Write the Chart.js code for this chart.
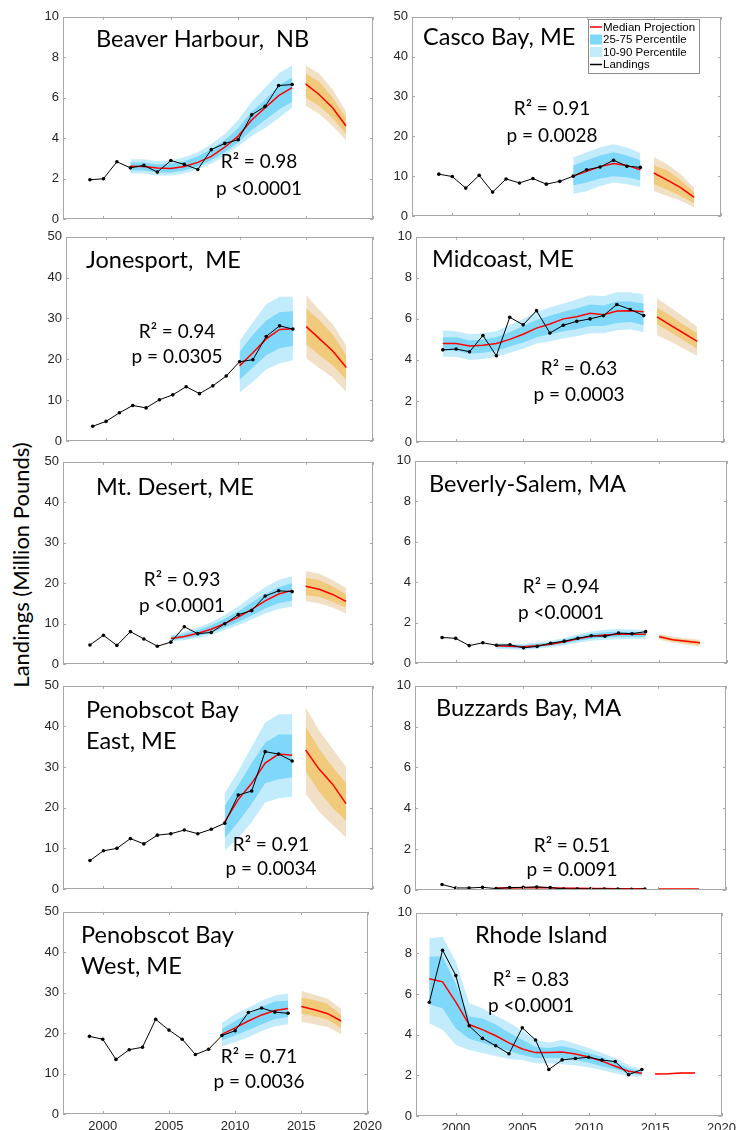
<!DOCTYPE html>
<html>
<head>
<meta charset="utf-8">
<script src="https://cdn.jsdelivr.net/npm/chart.js@4.4.1/dist/chart.umd.min.js"></script>
<style>
  body { margin: 0; background: #fff; }
  #page { position: relative; width: 750px; height: 1130px; overflow: hidden; background: #fff; }
  #page canvas { position: absolute; }
  #ylabel {
    position: absolute; left: 20px; top: 565px;
    transform: translate(-50%, -50%) rotate(-90deg);
    font: 22px Lato; white-space: nowrap; color: #000;
  }
</style>
</head>
<body>
<div id="page"><div id="ylabel">Landings (Million Pounds)</div></div>
<script>
// ---------- Data (million pounds) ----------
// hindcast / projection rows: [year, p10, p25, median, p75, p90]
const xTicks = [2000, 2005, 2010, 2015, 2020];

const beaverLandings = [1.94, 1.99, 2.83, 2.53, 2.65, 2.32, 2.89, 2.70, 2.45, 3.43, 3.74, 3.92, 5.15, 5.57, 6.60, 6.65];
const beaverHindcast = [
  [2002, 2.25, 2.4, 2.61, 2.8, 2.95], [2003, 2.25, 2.4, 2.6, 2.8, 2.95], [2004, 2.15, 2.3, 2.52, 2.7, 2.85],
  [2005, 2.15, 2.3, 2.5, 2.75, 2.9], [2006, 2.25, 2.4, 2.6, 2.85, 3.05], [2007, 2.45, 2.6, 2.8, 3.1, 3.3],
  [2008, 2.75, 2.9, 3.1, 3.45, 3.7], [2009, 3.1, 3.3, 3.55, 3.9, 4.2], [2010, 3.6, 3.8, 4.1, 4.5, 4.9],
  [2011, 4.1, 4.4, 4.9, 5.3, 5.8], [2012, 4.5, 4.9, 5.5, 5.9, 6.5], [2013, 5.0, 5.4, 6.1, 6.6, 7.2],
  [2014, 5.5, 5.8, 6.5, 7.0, 7.6]
];
const beaverProjection = [[2015, 5.6, 6.0, 6.68, 7.2, 7.6], [2016, 5.2, 5.6, 6.16, 6.8, 7.2], [2017, 4.6, 5.0, 5.5, 6.0, 6.4], [2018, 3.9, 4.2, 4.6, 5.0, 5.3]];

const cascoLandings = [10.5, 9.9, 7.0, 10.2, 6.0, 9.3, 8.3, 9.4, 8.0, 8.7, 10.0, 11.6, 12.3, 14.0, 12.5, 12.2];
const cascoHindcast = [
  [2009, 5.6, 7.7, 10.0, 12.7, 14.7], [2010, 6.2, 8.4, 11.2, 14.0, 16.0], [2011, 7.5, 9.4, 12.4, 15.2, 17.2],
  [2012, 8.4, 10.0, 13.2, 16.0, 18.0], [2013, 8.0, 9.7, 12.7, 15.2, 17.2], [2014, 7.3, 9.0, 11.6, 14.0, 15.8]
];
const cascoProjection = [[2015, 6.3, 8.0, 10.8, 12.8, 14.8], [2016, 5.0, 6.6, 9.0, 11.5, 13.0], [2017, 3.8, 5.0, 7.1, 9.0, 10.5], [2018, 2.2, 3.2, 4.7, 6.0, 7.0]];

const jonesLandings = [3.6, 4.8, 6.9, 8.7, 8.1, 10.1, 11.3, 13.3, 11.6, 13.5, 15.9, 19.4, 19.9, 25.6, 28.2, 27.4];
const jonesHindcast = [
  [2010, 11.8, 15.0, 18.4, 21.8, 24.5], [2011, 14.5, 18.0, 21.6, 26.0, 29.0], [2012, 17.5, 21.0, 25.0, 29.5, 33.5],
  [2013, 19.0, 22.7, 27.3, 31.5, 35.3], [2014, 19.8, 23.3, 27.5, 31.8, 35.3]
];
const jonesProjection = [[2015, 20.2, 23.7, 28.0, 32.5, 35.7], [2016, 17.8, 21.0, 25.0, 29.5, 32.0], [2017, 15.5, 18.5, 22.0, 26.0, 28.5], [2018, 12.0, 15.0, 18.0, 21.0, 23.3]];

const midLandings = [4.49, 4.53, 4.40, 5.19, 4.20, 6.08, 5.71, 6.40, 5.31, 5.69, 5.88, 6.0, 6.16, 6.70, 6.46, 6.16];
const midHindcast = [
  [1999, 4.15, 4.45, 4.8, 5.1, 5.45], [2000, 4.15, 4.45, 4.8, 5.1, 5.4], [2001, 4.0, 4.3, 4.68, 4.95, 5.25],
  [2002, 4.05, 4.35, 4.72, 5.0, 5.3], [2003, 4.15, 4.45, 4.8, 5.1, 5.4], [2004, 4.35, 4.65, 5.0, 5.35, 5.7],
  [2005, 4.55, 4.85, 5.25, 5.65, 6.0], [2006, 4.8, 5.1, 5.55, 5.95, 6.35], [2007, 4.9, 5.25, 5.75, 6.15, 6.55],
  [2008, 5.05, 5.4, 6.0, 6.35, 6.75], [2009, 5.15, 5.5, 6.1, 6.5, 6.95], [2010, 5.3, 5.65, 6.27, 6.7, 7.15],
  [2011, 5.3, 5.65, 6.2, 6.65, 7.1], [2012, 5.45, 5.8, 6.38, 6.85, 7.3], [2013, 5.5, 5.85, 6.4, 6.85, 7.3],
  [2014, 5.35, 5.7, 6.35, 6.75, 7.2]
];
const midProjection = [[2015, 5.2, 5.75, 6.1, 6.55, 7.0], [2016, 4.9, 5.35, 5.7, 6.15, 6.55], [2017, 4.55, 4.95, 5.3, 5.7, 6.1], [2018, 4.2, 4.55, 4.9, 5.3, 5.6]];

const desertLandings = [4.7, 7.1, 4.6, 8.0, 6.2, 4.4, 5.4, 9.2, 7.5, 7.8, 9.95, 12.2, 13.2, 16.8, 18.1, 17.9];
const desertHindcast = [
  [2005, 5.6, 5.9, 6.3, 6.8, 7.2], [2006, 5.9, 6.3, 6.8, 7.5, 8.0], [2007, 6.4, 6.9, 7.6, 8.4, 9.0],
  [2008, 7.2, 7.8, 8.6, 9.6, 10.3], [2009, 8.4, 9.0, 10.0, 11.2, 12.1], [2010, 9.6, 10.4, 11.6, 13.0, 14.2],
  [2011, 11.0, 12.0, 13.5, 15.2, 16.7], [2012, 12.5, 13.7, 15.6, 17.3, 19.0], [2013, 13.6, 15.0, 17.3, 19.0, 20.8],
  [2014, 14.2, 15.7, 18.2, 20.0, 21.7]
];
const desertProjection = [[2015, 15.5, 17.0, 19.2, 21.3, 23.0], [2016, 15.0, 16.6, 18.5, 20.8, 22.3], [2017, 14.0, 15.4, 17.2, 19.2, 20.8], [2018, 12.5, 14.0, 15.5, 17.2, 18.8]];

const beverlyLandings = [1.26, 1.22, 0.86, 1.0, 0.88, 0.9, 0.75, 0.82, 0.98, 1.08, 1.22, 1.35, 1.32, 1.48, 1.45, 1.55];
const beverlyHindcast = [
  [2003, 0.7, 0.78, 0.85, 0.93, 1.0], [2004, 0.68, 0.76, 0.83, 0.9, 0.97], [2005, 0.66, 0.73, 0.8, 0.88, 0.95],
  [2006, 0.7, 0.78, 0.85, 0.94, 1.02], [2007, 0.78, 0.86, 0.93, 1.02, 1.1], [2008, 0.88, 0.96, 1.05, 1.15, 1.24],
  [2009, 1.0, 1.1, 1.2, 1.32, 1.42], [2010, 1.1, 1.2, 1.32, 1.45, 1.56], [2011, 1.15, 1.26, 1.38, 1.52, 1.65],
  [2012, 1.18, 1.3, 1.42, 1.55, 1.68], [2013, 1.2, 1.3, 1.42, 1.54, 1.66], [2014, 1.2, 1.3, 1.42, 1.52, 1.62]
];
const beverlyProjection = [[2015, 1.15, 1.22, 1.3, 1.38, 1.45], [2016, 1.0, 1.07, 1.15, 1.23, 1.3], [2017, 0.9, 0.98, 1.07, 1.15, 1.22], [2018, 0.82, 0.9, 1.0, 1.08, 1.15]];

const eastLandings = [7.0, 9.4, 10.0, 12.4, 11.1, 13.25, 13.6, 14.5, 13.6, 14.7, 16.2, 23.1, 24.1, 33.8, 33.2, 31.5];
const eastHindcast = [
  [2009, 9.5, 12.5, 16.5, 20.5, 23.5], [2010, 12.5, 16.5, 22.0, 25.5, 29.0], [2011, 16.5, 21.0, 26.0, 31.0, 35.0],
  [2012, 21.3, 26.0, 31.0, 36.0, 41.0], [2013, 22.3, 27.0, 33.2, 38.0, 43.0], [2014, 22.7, 27.5, 32.9, 38.0, 43.0]
];
const eastProjection = [[2015, 23.5, 29.0, 34.2, 40.0, 44.7], [2016, 19.0, 24.0, 29.5, 34.5, 39.0], [2017, 15.8, 20.0, 25.8, 30.0, 34.5], [2018, 12.7, 16.8, 21.0, 26.0, 30.0]];

const buzzardsLandings = [0.27, 0.10, 0.10, 0.13, 0.07, 0.12, 0.13, 0.15, 0.12, 0.05, 0.05, 0.06, 0.05, 0.05, 0.03, 0.05];
const buzzardsHindcast = [
  [2003, 0.06, 0.08, 0.10, 0.12, 0.14], [2004, 0.06, 0.08, 0.10, 0.12, 0.14], [2005, 0.07, 0.09, 0.11, 0.13, 0.15],
  [2006, 0.08, 0.10, 0.12, 0.14, 0.16], [2007, 0.07, 0.09, 0.11, 0.13, 0.15], [2008, 0.05, 0.07, 0.09, 0.11, 0.13],
  [2009, 0.04, 0.06, 0.08, 0.10, 0.12], [2010, 0.04, 0.05, 0.07, 0.09, 0.10], [2011, 0.04, 0.05, 0.07, 0.09, 0.10],
  [2012, 0.03, 0.04, 0.06, 0.08, 0.09], [2013, 0.03, 0.04, 0.06, 0.08, 0.09], [2014, 0.03, 0.04, 0.06, 0.08, 0.09]
];
const buzzardsProjection = [[2015, 0.03, 0.04, 0.05, 0.06, 0.07], [2016, 0.03, 0.04, 0.05, 0.06, 0.07], [2017, 0.03, 0.04, 0.05, 0.06, 0.07], [2018, 0.03, 0.04, 0.05, 0.06, 0.07]];

const westLandings = [19.2, 18.5, 13.5, 15.9, 16.5, 23.4, 20.75, 18.5, 14.7, 16.0, 19.4, 20.6, 25.1, 26.2, 25.2, 24.9];
const westHindcast = [
  [2009, 16.7, 18.2, 19.7, 21.0, 22.5], [2010, 17.8, 19.5, 21.3, 23.0, 24.7], [2011, 19.0, 20.8, 23.0, 24.7, 26.3],
  [2012, 20.5, 22.2, 24.5, 26.5, 28.0], [2013, 21.7, 23.5, 25.6, 27.8, 29.3], [2014, 22.2, 24.0, 26.1, 28.0, 29.8]
];
const westProjection = [[2015, 22.8, 24.8, 26.6, 28.8, 30.5], [2016, 22.2, 24.2, 25.8, 28.2, 29.5], [2017, 21.5, 23.3, 24.8, 27.2, 28.5], [2018, 19.7, 21.2, 23.0, 24.5, 26.0]];

const rhodeLandings = [5.6, 8.16, 6.91, 4.44, 3.82, 3.46, 3.06, 4.34, 3.74, 2.29, 2.76, 2.83, 2.89, 2.75, 2.68, 2.03, 2.29];
const rhodeHindcast = [
  [1998, 4.55, 5.5, 6.75, 7.85, 8.75], [1999, 4.25, 5.3, 6.6, 7.85, 8.82], [2000, 3.5, 4.3, 5.6, 6.5, 7.6],
  [2001, 3.25, 3.8, 4.5, 4.9, 5.55], [2002, 3.1, 3.6, 4.25, 4.8, 5.3], [2003, 2.95, 3.4, 3.95, 4.5, 4.95],
  [2004, 2.8, 3.2, 3.6, 4.1, 4.6], [2005, 2.75, 3.0, 3.3, 3.75, 4.2], [2006, 2.6, 2.85, 3.12, 3.4, 3.75],
  [2007, 2.6, 2.85, 3.12, 3.35, 3.6], [2008, 2.55, 2.85, 3.15, 3.45, 3.75], [2009, 2.5, 2.75, 3.05, 3.3, 3.55],
  [2010, 2.4, 2.62, 2.9, 3.1, 3.35], [2011, 2.25, 2.45, 2.7, 2.9, 3.1], [2012, 2.1, 2.3, 2.45, 2.65, 2.85],
  [2013, 1.95, 2.1, 2.2, 2.35, 2.5], [2014, 1.95, 2.02, 2.1, 2.2, 2.3]
];
const rhodeProjection = [[2015, 2.04, 2.05, 2.07, 2.09, 2.1], [2016, 2.05, 2.06, 2.08, 2.1, 2.11], [2017, 2.09, 2.1, 2.12, 2.14, 2.15], [2018, 2.09, 2.1, 2.12, 2.14, 2.15]];

// ---------- Panels (box = plot area in page px: left, top, right, bottom) ----------
const panels = [
  { title: ['Beaver Harbour,  NB'], stats: ['R\u00B2 = 0.98', 'p <0.0001'], ymax: 10, first: 1999,
    land: beaverLandings, hind: beaverHindcast, proj: beaverProjection,
    box: [63, 15, 373, 219], titleAt: [96, 47], statsAt: [259, 168, 195] },
  { title: ['Casco Bay, ME'], stats: ['R\u00B2 = 0.91', 'p = 0.0028'], ymax: 50, first: 1999,
    land: cascoLandings, hind: cascoHindcast, proj: cascoProjection,
    box: [412, 15, 721, 216], titleAt: [423, 45], statsAt: [552, 115, 142], legend: true },
  { title: ['Jonesport,  ME'], stats: ['R\u00B2 = 0.94', 'p = 0.0305'], ymax: 50, first: 1999,
    land: jonesLandings, hind: jonesHindcast, proj: jonesProjection,
    box: [66, 235, 373, 441], titleAt: [86, 268], statsAt: [177, 338, 363] },
  { title: ['Midcoast, ME'], stats: ['R\u00B2 = 0.63', 'p = 0.0003'], ymax: 10, first: 1999,
    land: midLandings, hind: midHindcast, proj: midProjection,
    box: [416, 235, 724, 442], titleAt: [432, 267], statsAt: [579, 375, 401] },
  { title: ['Mt. Desert, ME'], stats: ['R\u00B2 = 0.93', 'p <0.0001'], ymax: 50, first: 1999,
    land: desertLandings, hind: desertHindcast, proj: desertProjection,
    box: [63, 460, 373, 664], titleAt: [96, 495], statsAt: [182, 586, 612] },
  { title: ['Beverly-Salem, MA'], stats: ['R\u00B2 = 0.94', 'p <0.0001'], ymax: 10, first: 1999,
    land: beverlyLandings, hind: beverlyHindcast, proj: beverlyProjection,
    box: [415, 459, 727, 663], titleAt: [429, 492], statsAt: [561, 593, 619] },
  { title: ['Penobscot Bay', 'East, ME'], stats: ['R\u00B2 = 0.91', 'p = 0.0034'], ymax: 50, first: 1999,
    land: eastLandings, hind: eastHindcast, proj: eastProjection,
    box: [63, 684, 373, 889], titleAt: [86, 718], statsAt: [271, 851, 875] },
  { title: ['Buzzards Bay, MA'], stats: ['R\u00B2 = 0.51', 'p = 0.0091'], ymax: 10, first: 1999,
    land: buzzardsLandings, hind: buzzardsHindcast, proj: buzzardsProjection,
    box: [415, 684, 726, 890], titleAt: [436, 716], statsAt: [572, 852, 876] },
  { title: ['Penobscot Bay', 'West, ME'], stats: ['R\u00B2 = 0.71', 'p = 0.0036'], ymax: 50, first: 1999,
    land: westLandings, hind: westHindcast, proj: westProjection,
    box: [63, 910, 373, 1114], titleAt: [81, 943], statsAt: [259, 1063, 1088], bottom: true },
  { title: ['Rhode Island'], stats: ['R\u00B2 = 0.83', 'p <0.0001'], ymax: 10, first: 1998,
    land: rhodeLandings, hind: rhodeHindcast, proj: rhodeProjection,
    box: [416, 911, 727, 1116], titleAt: [475, 943], statsAt: [531, 986, 1012], bottom: true }
];

const BLUE_DARK = '#7fd7f9';
const BLUE_LIGHT = '#c2ecfc';
const ORANGE_DARK = '#f1ca7c';
const ORANGE_LIGHT = '#f1e0c6';
const FRAME = '#a8a8a8';
const PAD_L = 40, PAD_R = 14, PAD_T = 10, PAD_B = 24;

Chart.defaults.font.family = 'Liberation Sans';

function col(tbl, i) { return tbl.map(r => ({ x: r[0], y: r[i] })); }
function landPts(first, vals) { return vals.map((v, i) => ({ x: first + i, y: v })); }

const none = 'rgba(0,0,0,0)';
function band(data, target, color, order) {
  return { data, fill: target, backgroundColor: color, borderColor: none, borderWidth: 0, pointRadius: 0, order };
}
function edge(data, order) {
  return { data, fill: false, borderColor: none, borderWidth: 0, pointRadius: 0, order };
}

// frame, inward ticks, titles, stats and legend
const decorPlugin = {
  id: 'decor',
  afterDraw(chart, args, o) {
    const { ctx, chartArea: a, scales: { x, y } } = chart;
    ctx.save();
    ctx.strokeStyle = FRAME;
    ctx.lineWidth = 1;
    ctx.strokeRect(Math.round(a.left) + 0.5, Math.round(a.top) + 0.5, Math.round(a.width) - 1, Math.round(a.height) - 1);
    ctx.beginPath();
    x.ticks.forEach(t => {
      const px = Math.round(x.getPixelForValue(t.value)) + 0.5;
      ctx.moveTo(px, a.bottom); ctx.lineTo(px, a.bottom - 3);
      ctx.moveTo(px, a.top); ctx.lineTo(px, a.top + 3);
    });
    y.ticks.forEach(t => {
      const py = Math.round(y.getPixelForValue(t.value)) + 0.5;
      ctx.moveTo(a.left, py); ctx.lineTo(a.left + 3, py);
      ctx.moveTo(a.right, py); ctx.lineTo(a.right - 3, py);
    });
    ctx.stroke();

    const ox = o.ox, oy = o.oy;
    ctx.fillStyle = '#000';
    ctx.textBaseline = 'alphabetic';
    ctx.font = '23.5px Lato';
    ctx.textAlign = 'left';
    o.title.forEach((s, i) => ctx.fillText(s, o.titleAt[0] - ox, o.titleAt[1] - oy + i * 31));
    ctx.font = '19px Lato';
    ctx.textAlign = 'center';
    ctx.fillText(o.stats[0], o.statsAt[0] - ox, o.statsAt[1] - oy);
    ctx.fillText(o.stats[1], o.statsAt[0] - ox, o.statsAt[2] - oy);

    if (o.legend) {
      const lx = 588 - ox, ly = 19 - oy;
      ctx.fillStyle = '#fff';
      ctx.fillRect(lx, ly, 111, 54);
      ctx.strokeStyle = '#8c8c8c';
      ctx.strokeRect(lx + 0.5, ly + 0.5, 111, 54);
      const items = [
        ['line', '#ff0000', 'Median Projection'],
        ['box', BLUE_DARK, '25-75 Percentile'],
        ['box', BLUE_LIGHT, '10-90 Percentile'],
        ['line', '#000', 'Landings']
      ];
      ctx.font = '11.5px "Liberation Sans"';
      ctx.textAlign = 'left';
      ctx.textBaseline = 'middle';
      items.forEach((it, i) => {
        const cy = ly + 8 + i * 12.5;
        if (it[0] === 'line') {
          ctx.strokeStyle = it[1]; ctx.lineWidth = 1.5;
          ctx.beginPath(); ctx.moveTo(lx + 2, cy); ctx.lineTo(lx + 14, cy); ctx.stroke();
        } else {
          ctx.fillStyle = it[1];
          ctx.fillRect(lx + 2, cy - 5, 12, 10);
        }
        ctx.fillStyle = '#000';
        ctx.fillText(it[2], lx + 15, cy + 0.5);
      });
    }
    ctx.restore();
  }
};

const page = document.getElementById('page');
panels.forEach(p => {
  const [l, t, r, b] = p.box;
  const cv = document.createElement('canvas');
  const ox = l - PAD_L, oy = t - PAD_T;
  const w = r - l + PAD_L + PAD_R, h = b - t + PAD_T + PAD_B;
  cv.width = w; cv.height = h;
  cv.style.left = ox + 'px'; cv.style.top = oy + 'px';
  page.appendChild(cv);

  const datasets = [
    { data: landPts(p.first, p.land), borderColor: '#000', borderWidth: 1, pointRadius: 1.8,
      pointBackgroundColor: '#000', pointBorderWidth: 0, fill: false, order: 0 },
    { data: col(p.hind, 3), borderColor: '#ff0000', borderWidth: 1.5, pointRadius: 0, fill: false, order: 1 },
    { data: col(p.proj, 3), borderColor: '#ff0000', borderWidth: 1.5, pointRadius: 0, fill: false, order: 1 },
    band(col(p.hind, 4), 4, BLUE_DARK, 2),     // 3
    edge(col(p.hind, 2), 2),                   // 4
    band(col(p.hind, 5), 6, BLUE_LIGHT, 3),    // 5
    edge(col(p.hind, 1), 3),                   // 6
    band(col(p.proj, 4), 8, ORANGE_DARK, 2),   // 7
    edge(col(p.proj, 2), 2),                   // 8
    band(col(p.proj, 5), 10, ORANGE_LIGHT, 3), // 9
    edge(col(p.proj, 1), 3)                    // 10
  ];

  new Chart(cv, {
    type: 'line',
    data: { datasets },
    plugins: [decorPlugin],
    options: {
      responsive: false,
      animation: false,
      devicePixelRatio: 1,
      layout: { padding: { top: PAD_T, right: PAD_R, left: 0, bottom: 0 } },
      elements: { line: { tension: 0 } },
      plugins: {
        legend: { display: false },
        tooltip: { enabled: false },
        decor: { ox, oy, title: p.title, stats: p.stats, titleAt: p.titleAt, statsAt: p.statsAt, legend: !!p.legend }
      },
      scales: {
        x: {
          type: 'linear', min: 1997, max: 2020,
          afterBuildTicks: s => { s.ticks = xTicks.map(v => ({ value: v })); },
          afterFit: s => { s.height = PAD_B; },
          grid: { display: false, drawTicks: false },
          border: { display: false },
          ticks: { display: !!p.bottom, color: '#262626', font: { size: 13 }, padding: 5, maxRotation: 0,
                   callback: v => String(v) }
        },
        y: {
          min: 0, max: p.ymax,
          afterFit: s => { s.width = PAD_L; },
          grid: { display: false, drawTicks: false },
          border: { display: false },
          ticks: { stepSize: p.ymax / 5, color: '#262626', font: { size: 13 }, padding: 4 }
        }
      }
    }
  });
});
</script>
</body>
</html>
